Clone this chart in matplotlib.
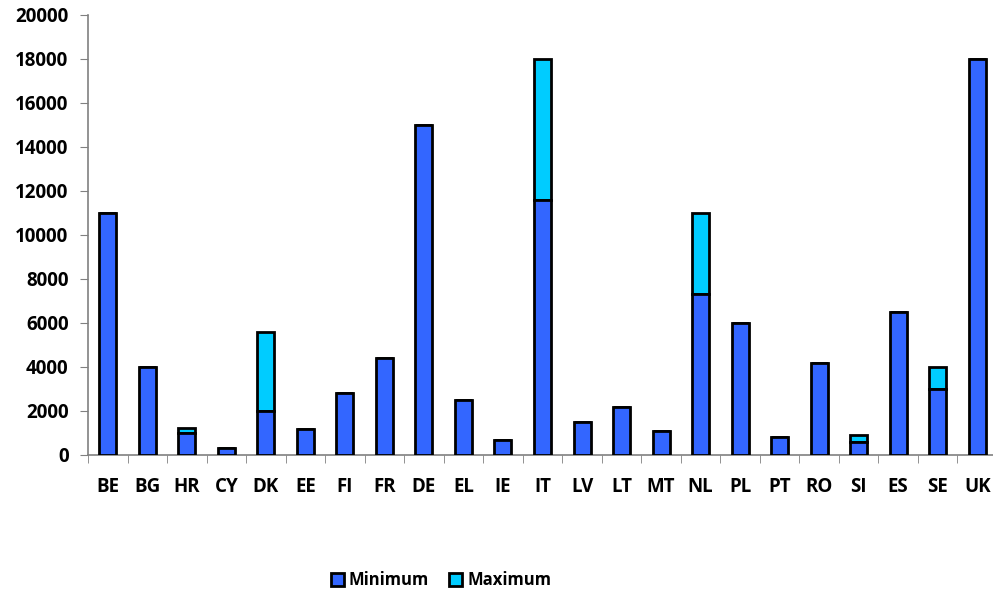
import matplotlib
import numpy as np
from matplotlib import pyplot as plt

matplotlib.use('agg')

plt.rcParams['font.family'] = ['Open Sans', 'DejaVu Sans']
plt.rcParams['font.weight'] = 'bold'

countries = ["BE", "BG", "HR", "CY", "DK", "EE", "FI", "FR", "DE", "EL", "IE", "IT",
             "LV", "LT", "MT", "NL", "PL", "PT", "RO", "SI", "ES", "SE", "UK"]
minimum = [11000, 4000, 1000, 300, 2000, 1200, 2800, 4400, 15000, 2500, 700, 11600,
           1500, 2200, 1100, 7300, 6000, 800, 4200, 600, 6500, 3000, 18000]
# extra on top of the minimum, up to the maximum
maximum_extra = [0, 0, 250, 0, 3600, 0, 0, 0, 0, 0, 0, 6400,
                 0, 0, 0, 3700, 0, 0, 0, 300, 0, 1000, 0]

fig = plt.figure(figsize=(9.93, 5.95), dpi=100)
ax = fig.add_axes([88 / 993, 1 - 455 / 595, 909 / 993, 440 / 595])

x = np.arange(len(countries))
w = 0.43
ax.bar(x, minimum, w, color="#3366FF", edgecolor="black", linewidth=2, label="Minimum", zorder=3)
ax.bar(x, maximum_extra, w, bottom=minimum, color="#00CCFF", edgecolor="black",
       linewidth=2, label="Maximum", zorder=2)

ax.set_xlim(-0.5, len(countries) - 0.5)
ax.set_ylim(0, 20000)
ax.set_yticks(range(0, 20001, 2000))
ax.set_yticklabels([str(v) for v in range(0, 20001, 2000)], fontsize=13.5, fontweight="bold")
ax.set_xticks(x)
ax.set_xticklabels(countries, fontsize=13.5, fontweight="bold")
ax.set_xticks(np.arange(-0.5, len(countries)), minor=True)
ax.tick_params(axis="x", which="major", length=0, pad=16)
ax.tick_params(axis="x", which="minor", length=6, color="#808080", direction="out")
ax.tick_params(axis="y", length=6, color="#808080", direction="out", pad=8)

for side in ["top", "right"]:
    ax.spines[side].set_visible(False)
for side in ["left", "bottom"]:
    ax.spines[side].set_color("#808080")
    ax.spines[side].set_linewidth(1.2)

ax.legend(loc="center", bbox_to_anchor=(441 / 993, 1 - 580 / 595), bbox_transform=fig.transFigure,
          ncol=2, frameon=False, prop={"size": 12, "weight": "bold"}, handlelength=0.8,
          handleheight=0.8, handletextpad=0.3, columnspacing=1.2)

fig.savefig("out.png", dpi=100)
plt.close(fig)
